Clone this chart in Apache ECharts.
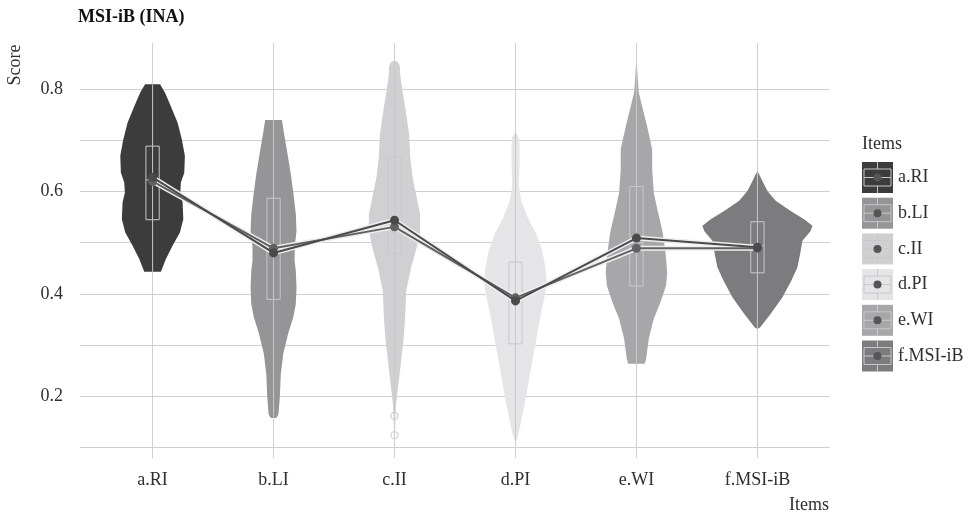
<!DOCTYPE html>
<html>
<head>
<meta charset="utf-8">
<script src="https://cdn.jsdelivr.net/npm/echarts@6/dist/echarts.min.js"></script>
<style>html,body{margin:0;padding:0;background:#fff;}#chart{width:971px;height:516px;}</style>
</head>
<body>
<div id="chart"></div>
<script>
// ---- data ----
const categories = ['a.RI', 'b.LI', 'c.II', 'd.PI', 'e.WI', 'f.MSI-iB'];
const colors = ['#3c3c3c', '#959598', '#d0d0d2', '#e5e5e7', '#a7a7aa', '#7c7c7f'];

// violin profiles: score levels and half-widths (in category units)
const violinScores_a = [0.443,0.468,0.494,0.520,0.546,0.579,0.598,0.618,0.637,0.670,0.702,0.735,0.767,0.794,0.810];
const violinWidths_a = [0.069,0.110,0.165,0.226,0.254,0.248,0.229,0.234,0.262,0.267,0.242,0.207,0.151,0.102,0.062];
const violinScores_b = [0.157,0.160,0.165,0.198,0.243,0.282,0.322,0.354,0.380,0.413,0.445,0.465,0.491,0.523,0.556,0.595,0.634,0.673,0.712,0.740];
const violinWidths_b = [0.020,0.033,0.041,0.052,0.060,0.080,0.121,0.163,0.184,0.190,0.184,0.174,0.174,0.190,0.184,0.165,0.143,0.116,0.088,0.069];
const violinScores_c = [0.120,0.162,0.185,0.224,0.263,0.309,0.354,0.406,0.452,0.491,0.523,0.556,0.588,0.628,0.667,0.712,0.758,0.797,0.829,0.845,0.852,0.856];
const violinWidths_c = [0.004,0.008,0.014,0.033,0.052,0.074,0.088,0.097,0.138,0.184,0.212,0.212,0.184,0.149,0.130,0.121,0.093,0.066,0.047,0.045,0.035,0.012];
const violinScores_d = [0.110,0.120,0.159,0.211,0.263,0.309,0.354,0.393,0.419,0.452,0.484,0.517,0.549,0.582,0.614,0.654,0.692,0.708,0.716];
const violinWidths_d = [0.000,0.019,0.055,0.097,0.135,0.171,0.204,0.240,0.259,0.248,0.221,0.171,0.102,0.047,0.027,0.033,0.033,0.025,0.000];
const violinScores_e = [0.263,0.273,0.312,0.351,0.383,0.416,0.442,0.481,0.520,0.559,0.598,0.644,0.683,0.728,0.767,0.794,0.820,0.849];
const violinWidths_e = [0.069,0.080,0.102,0.143,0.198,0.245,0.254,0.240,0.217,0.179,0.143,0.130,0.130,0.088,0.047,0.019,0.011,0.004];
const violinScores_f = [0.331,0.334,0.361,0.393,0.426,0.452,0.478,0.504,0.523,0.533,0.546,0.562,0.582,0.601,0.621,0.641];
const violinWidths_f = [0.000,0.022,0.110,0.207,0.281,0.331,0.353,0.372,0.440,0.455,0.386,0.275,0.151,0.083,0.041,0.000];

// boxplot statistics
const whiskerLow  = [0.443, 0.157, 0.170, 0.110, 0.263, 0.331];
const boxQ1       = [0.545, 0.389, 0.479, 0.302, 0.415, 0.441];
const boxMedian   = [0.623, 0.485, 0.535, 0.390, 0.500, 0.494];
const boxQ3       = [0.689, 0.587, 0.668, 0.462, 0.610, 0.541];
const whiskerHigh = [0.810, 0.740, 0.856, 0.716, 0.849, 0.641];
const outlierCategory = [2, 2];
const outlierScore    = [0.161, 0.123];

// connecting lines (two summaries)
const line1 = [0.628, 0.480, 0.544, 0.386, 0.509, 0.491];
const line2 = [0.620, 0.489, 0.531, 0.392, 0.489, 0.489];

const yLabelTicks = [0.2, 0.4, 0.6, 0.8];

// ---- chart ----
const violinScores = [violinScores_a, violinScores_b, violinScores_c, violinScores_d, violinScores_e, violinScores_f];
const violinWidths = [violinWidths_a, violinWidths_b, violinWidths_c, violinWidths_d, violinWidths_e, violinWidths_f];
const FONT = '"Liberation Serif", "DejaVu Serif", serif';
const TEXT = '#2e2e2e';
const GRID = '#d0d0d0';
const BOXC = '#c8c8c8';
const FS = 18;
const catIdx = categories.map((c, i) => i);

const chart = echarts.init(document.getElementById('chart'), null, {renderer: 'canvas'});

const legendGraphics = [];
const LX = 862, LY0 = 162, LSTEP = 35.7, LS = 31;
legendGraphics.push({type: 'text', x: LX, y: 144, style: {text: 'Items', font: FS + 'px ' + FONT, fill: TEXT, verticalAlign: 'middle'}});
categories.forEach((c, i) => {
  const y = LY0 + i * LSTEP;
  const cx = LX + LS / 2, cy = y + LS / 2;
  legendGraphics.push({type: 'group', children: [
    {type: 'rect', shape: {x: LX, y: y, width: LS, height: LS}, style: {fill: colors[i]}},
    {type: 'line', shape: {x1: cx, y1: y, x2: cx, y2: y + LS}, style: {stroke: BOXC, lineWidth: 1}},
    {type: 'rect', shape: {x: LX + 2, y: cy - 8.5, width: LS - 4, height: 17}, style: {fill: colors[i], stroke: BOXC, lineWidth: 1}},
    {type: 'line', shape: {x1: LX + 2, y1: cy, x2: LX + LS - 2, y2: cy}, style: {stroke: BOXC, lineWidth: 1}},
    {type: 'circle', shape: {cx: cx, cy: cy, r: 4}, style: {fill: '#555555'}},
    {type: 'text', x: LX + LS + 5, y: cy, style: {text: c, font: FS + 'px ' + FONT, fill: TEXT, verticalAlign: 'middle', align: 'left'}}
  ]});
});

const option = {
  animation: false,
  backgroundColor: '#ffffff',
  title: {text: 'MSI-iB (INA)', left: 78, top: 8, padding: 0, textStyle: {fontFamily: FONT, fontSize: 18, fontWeight: 'bold', color: '#111'}},
  grid: {left: 80, right: 141, top: 43, bottom: 69},
  xAxis: {
    type: 'value', min: -0.6, max: 5.6,
    axisLine: {show: false},
    axisTick: {show: true, length: 11, lineStyle: {color: GRID}, customValues: catIdx},
    axisLabel: {customValues: catIdx, formatter: v => categories[Math.round(v)] || '', margin: 24,
      fontFamily: FONT, fontSize: FS, color: TEXT},
    splitLine: {show: true, lineStyle: {color: GRID, width: 1}}
  },
  yAxis: {
    type: 'value', min: 0.1, max: 0.891, interval: 0.1,
    axisLine: {show: false}, axisTick: {show: false},
    axisLabel: {margin: 17, fontFamily: FONT, fontSize: FS, color: TEXT,
      formatter: v => yLabelTicks.some(t => Math.abs(t - v) < 1e-6) ? v.toFixed(1) : ''},
    splitLine: {show: true, showMaxLine: false, lineStyle: {color: GRID, width: 1}}
  },
  graphic: [
    {type: 'text', x: 15, y: 65, rotation: Math.PI / 2, style: {text: 'Score', font: FS + 'px ' + FONT, fill: TEXT, align: 'center', verticalAlign: 'middle'}},
    {type: 'text', x: 829, y: 505, style: {text: 'Items', font: FS + 'px ' + FONT, fill: TEXT, align: 'right', verticalAlign: 'middle'}}
  ].concat(legendGraphics),
  series: [
    {
      type: 'custom', name: 'violin', z: 2,
      data: catIdx.map(i => [i]),
      renderItem: (params, api) => {
        const i = params.dataIndex;
        const ys = violinScores[i], ws = violinWidths[i];
        const pts = [];
        for (let k = 0; k < ys.length; k++) pts.push(api.coord([i + ws[k], ys[k]]));
        for (let k = ys.length - 1; k >= 0; k--) pts.push(api.coord([i - ws[k], ys[k]]));
        return {type: 'polygon', shape: {points: pts}, style: {fill: colors[i]}};
      }
    },
    {
      type: 'custom', name: 'box', z: 3,
      data: catIdx.map(i => [i, whiskerLow[i], boxQ1[i], boxMedian[i], boxQ3[i], whiskerHigh[i]]),
      renderItem: (params, api) => {
        const i = api.value(0);
        const bw = 0.055;
        const lo = api.coord([i, api.value(1)]), hi = api.coord([i, api.value(5)]);
        const q1l = api.coord([i - bw, api.value(2)]), q3r = api.coord([i + bw, api.value(4)]);
        const ml = api.coord([i - bw, api.value(3)]), mr = api.coord([i + bw, api.value(3)]);
        return {type: 'group', children: [
          {type: 'line', shape: {x1: lo[0], y1: lo[1], x2: hi[0], y2: hi[1]}, style: {stroke: BOXC, lineWidth: 1}},
          {type: 'rect', shape: {x: q1l[0], y: q3r[1], width: q3r[0] - q1l[0], height: q1l[1] - q3r[1]}, style: {fill: 'none', stroke: BOXC, lineWidth: 1}},
          {type: 'line', shape: {x1: ml[0], y1: ml[1], x2: mr[0], y2: mr[1]}, style: {stroke: BOXC, lineWidth: 1}}
        ]};
      }
    },
    {
      type: 'scatter', name: 'outliers', z: 4,
      data: outlierCategory.map((c, k) => [c, outlierScore[k]]),
      symbol: 'circle', symbolSize: 7,
      itemStyle: {color: 'rgba(0,0,0,0)', borderColor: BOXC, borderWidth: 1.2}
    },
    {
      type: 'line', name: 'halo2', z: 5, silent: true,
      data: catIdx.map(i => [i, line2[i]]), symbol: 'none',
      lineStyle: {color: '#eeeeee', width: 5}
    },
    {
      type: 'line', name: 'halo1', z: 5, silent: true,
      data: catIdx.map(i => [i, line1[i]]), symbol: 'none',
      lineStyle: {color: '#eeeeee', width: 5}
    },
    {
      type: 'line', name: 'line2', z: 6,
      data: catIdx.map(i => [i, line2[i]]),
      symbol: 'circle', symbolSize: 9, showAllSymbol: true,
      itemStyle: {color: '#616161'}, lineStyle: {color: '#616161', width: 2}
    },
    {
      type: 'line', name: 'line1', z: 7,
      data: catIdx.map(i => [i, line1[i]]),
      symbol: 'circle', symbolSize: 9, showAllSymbol: true,
      itemStyle: {color: '#4a4a4a'}, lineStyle: {color: '#4a4a4a', width: 2}
    }
  ]
};
chart.setOption(option);
</script>
</body>
</html>
